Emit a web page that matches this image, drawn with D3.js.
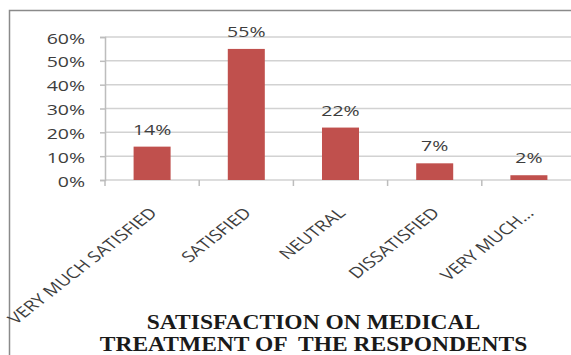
<!DOCTYPE html>
<html>
<head>
<meta charset="utf-8">
<script src="https://cdn.jsdelivr.net/npm/d3@7"></script>
<style>
  html, body { margin: 0; padding: 0; background: #fff; }
  svg { display: block; }
</style>
</head>
<body>
<script>
const categories = ["VERY MUCH SATISFIED", "SATISFIED", "NEUTRAL", "DISSATISFIED", "VERY MUCH..."];
const values = [14, 55, 22, 7, 2];
const yTicks = [0, 10, 20, 30, 40, 50, 60];
const titleLines = ["SATISFACTION ON MEDICAL", "TREATMENT OF  THE RESPONDENTS"];

const W = 571, H = 355;
const svg = d3.select("body").append("svg").attr("width", W).attr("height", H);

const x = d3.scaleBand().domain(categories).range([105, 576]).padding(0);
const y = d3.scaleLinear().domain([0, 60]).range([180, 37]);
const barW = x.bandwidth() * 0.393;
const sansFont = "'Open Sans', sans-serif";
const textCol = "#3d3d3d";

// outer frame
svg.append("path")
  .attr("d", "M9.5,355 V10.5 H571")
  .attr("fill", "none").attr("stroke", "#8a8a8a").attr("stroke-width", 1.5);

// gridlines
svg.append("g").selectAll("line").data(yTicks).join("line")
  .attr("x1", 105).attr("x2", 576)
  .attr("y1", d => y(d)).attr("y2", d => y(d))
  .attr("stroke", "#d2d2d2").attr("stroke-width", 1.5);

// y axis
const yAxis = svg.append("g").attr("transform", "translate(105,0)")
  .call(d3.axisLeft(y).tickValues(yTicks).tickFormat(d => d + "%").tickSize(5).tickPadding(0));
yAxis.select(".domain").attr("stroke", "#bdbdbd").attr("stroke-width", 1.5);
yAxis.selectAll(".tick line").attr("stroke", "#bdbdbd").attr("stroke-width", 1.5);
yAxis.selectAll(".tick text")
  .attr("x", null).attr("dy", null)
  .attr("transform", "translate(-20,0) scale(1.3,1)")
  .attr("text-anchor", "end")
  .attr("dominant-baseline", "central")
  .attr("font-family", sansFont).attr("font-size", 15).attr("fill", textCol);

// x axis boundary ticks
const bounds = categories.map(c => x(c)).concat([x.range()[1]]);
svg.append("g").selectAll("line").data(bounds).join("line")
  .attr("x1", d => d).attr("x2", d => d)
  .attr("y1", 180).attr("y2", 186)
  .attr("stroke", "#bdbdbd").attr("stroke-width", 1.5);

// x axis labels
const xAxis = svg.append("g").attr("transform", "translate(0,180)")
  .call(d3.axisBottom(x).tickSize(0).tickPadding(0));
xAxis.select(".domain").remove();
xAxis.selectAll(".tick text")
  .attr("y", null).attr("dy", null)
  .attr("text-anchor", "end")
  .attr("transform", "translate(6,34) scale(1.28,1) rotate(-45)")
  .attr("font-family", sansFont).attr("font-size", 15).attr("fill", textCol);

// bars
svg.append("g").selectAll("rect").data(values).join("rect")
  .attr("x", (d, i) => x(categories[i]) + x.bandwidth() / 2 - barW / 2)
  .attr("width", barW)
  .attr("y", d => y(d))
  .attr("height", d => y(0) - y(d))
  .attr("fill", "#c0504d");

// data labels
svg.append("g").selectAll("text").data(values).join("text")
  .attr("transform", (d, i) => `translate(${x(categories[i]) + x.bandwidth() / 2},${y(d) - 18}) scale(1.3,1)`)
  .attr("text-anchor", "middle")
  .attr("dominant-baseline", "central")
  .attr("font-family", sansFont).attr("font-size", 15).attr("fill", textCol)
  .text(d => d + "%");

// title
svg.append("g").selectAll("text").data(titleLines).join("text")
  .attr("transform", (d, i) => `translate(313.5,${329 + i * 22}) scale(1.12,1)`)
  .attr("text-anchor", "middle")
  .style("white-space", "pre")
  .attr("font-family", "'Liberation Serif', 'Times New Roman', serif")
  .attr("font-weight", "bold").attr("font-size", 21).attr("fill", "#1a1a1a")
  .text(d => d);
</script>
</body>
</html>
